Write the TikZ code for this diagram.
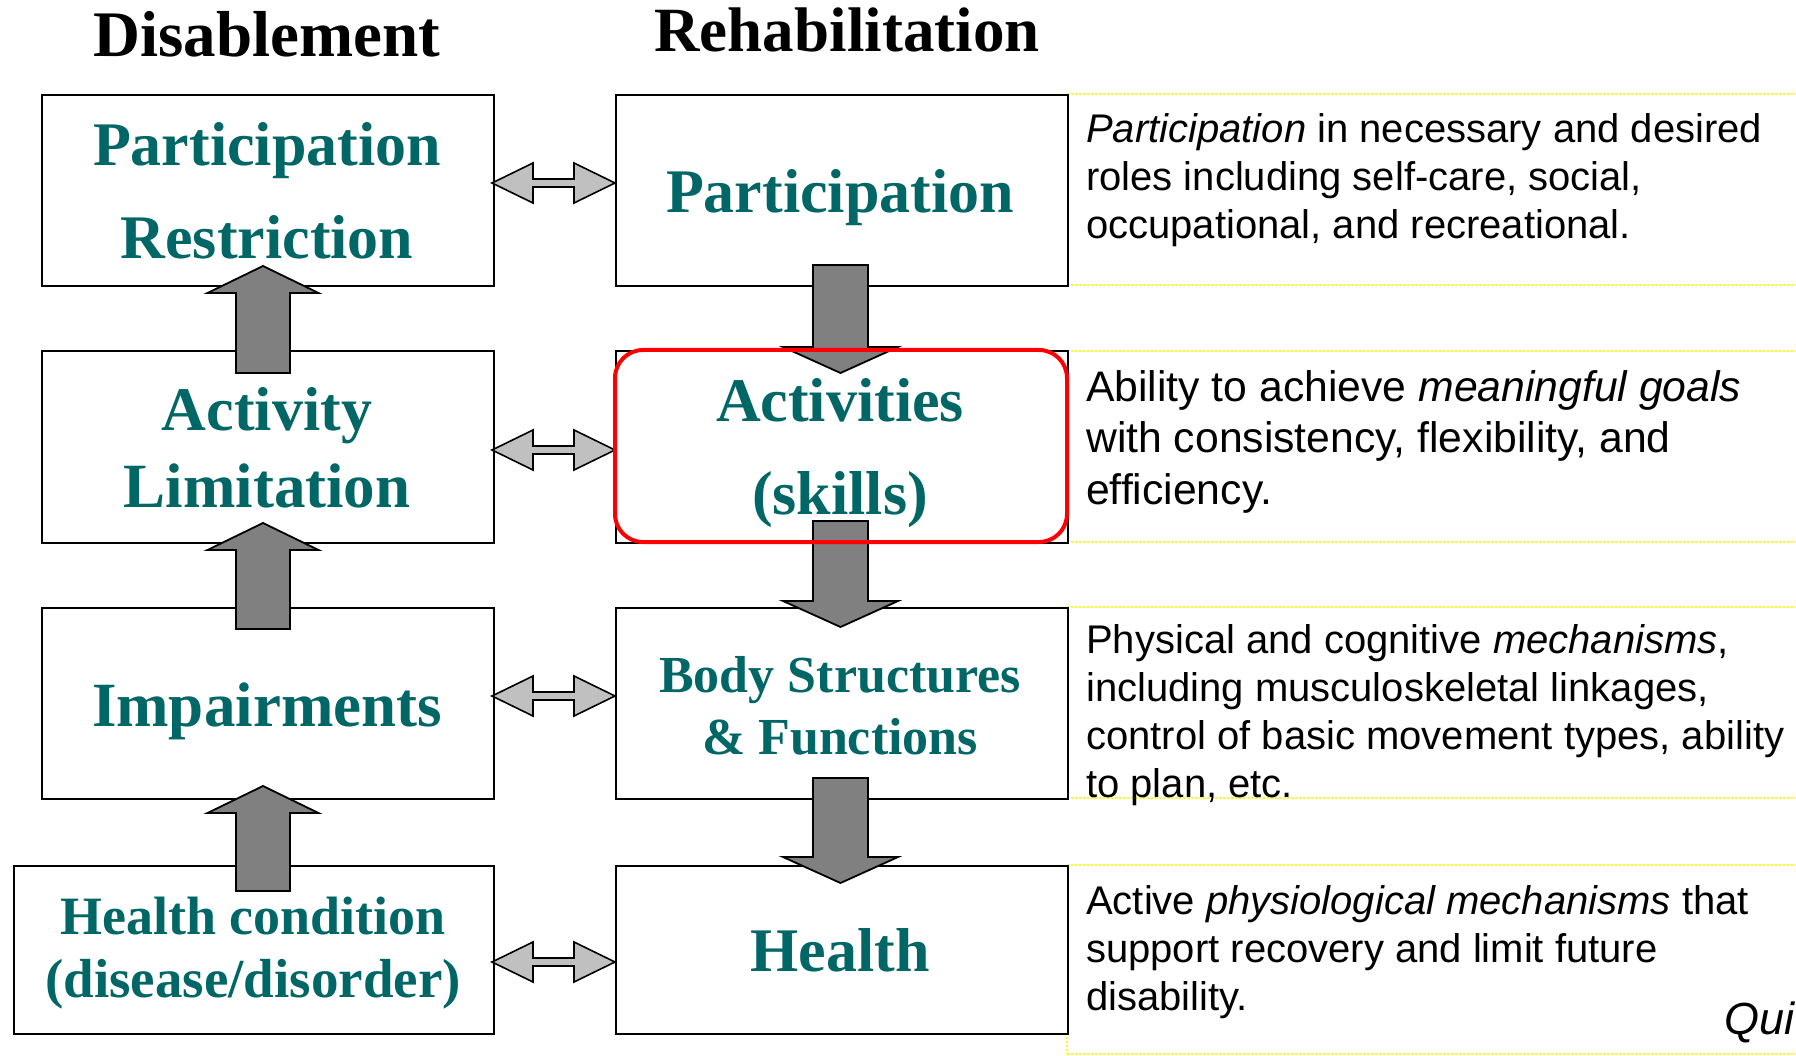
\documentclass[tikz,border=0pt]{standalone}
\usepackage{fontspec}
\setmainfont{Liberation Serif}
\newfontfamily\arialf{Liberation Sans}
\definecolor{teal2}{HTML}{006666}
\definecolor{lgray}{HTML}{C0C0C0}
\definecolor{dgray}{HTML}{808080}
\definecolor{yel}{HTML}{FFFF00}
\tikzset{
  box/.style={draw=black, line width=2pt, fill=white, inner sep=0pt, anchor=north west},
  big/.style={text=teal2, font=\bfseries\fontsize{62pt}{70pt}\selectfont, anchor=base, inner sep=0pt},
  mid/.style={text=teal2, font=\bfseries\fontsize{54pt}{60pt}\selectfont, anchor=base, inner sep=0pt},
  head/.style={text=black, font=\bfseries\fontsize{63pt}{70pt}\selectfont, anchor=base, inner sep=0pt},
  desc/.style={text=black, font=\arialf\fontsize{40pt}{48pt}\selectfont, anchor=base west, inner sep=0pt},
  descl/.style={desc, font=\arialf\fontsize{42.7pt}{50pt}\selectfont},
  dbl/.style={draw=black, line width=1.6pt, fill=lgray, line join=miter},
  blk/.style={draw=black, line width=1.8pt, fill=dgray, line join=miter},
  yline/.style={draw=yel, line width=2pt, dash pattern=on 2pt off 2pt},
  redbox/.style={draw=red, line width=4pt, rounded corners=28pt}
}
\newcommand\dblarr[3]{% left tip x, right tip x, y
  \draw[dbl] (#1,#3) -- (#1+41,#3-20) -- (#1+41,#3-4) -- (#2-41,#3-4) -- (#2-41,#3-20) -- (#2,#3)
    -- (#2-41,#3+20) -- (#2-41,#3+4) -- (#1+41,#3+4) -- (#1+41,#3+20) -- cycle;}
\newcommand\uparr[3]{% x, tip y, bottom y
  \draw[blk] (#1,#2) -- (#1+55.5,#2+27) -- (#1+27,#2+27) -- (#1+27,#3) -- (#1-27,#3) -- (#1-27,#2+27) -- (#1-55.5,#2+27) -- cycle;}
\newcommand\dnarr[3]{% x, top y, tip y
  \draw[blk] (#1-27.5,#2) -- (#1+27.5,#2) -- (#1+27.5,#3-26) -- (#1+57.5,#3-26) -- (#1,#3) -- (#1-57.5,#3-26) -- (#1-27.5,#3-26) -- cycle;}
\begin{document}
\begin{tikzpicture}[x=1pt,y=-1pt]
\useasboundingbox (0,0) rectangle (1796,1056);
\fill[white] (0,0) rectangle (1796,1056);
% yellow dotted frames of the description boxes
\foreach \yy in {94,285,351,542,607,798,865,1054}{
  \draw[yline] (1067,\yy) -- (1796,\yy);}
\draw[yline] (1067,1033) -- (1067,1054);
% headers
\node[head, font=\bfseries\fontsize{65pt}{70pt}\selectfont] (hdis) at (267,57) {Disablement};
\node[head] (hreh) at (847,52) {Rehabilitation};
% left boxes
\node[box, minimum width=452pt, minimum height=191pt] (l1) at (41,94) {};
\node[box, minimum width=452pt, minimum height=192pt] (l2) at (41,350) {};
\node[box, minimum width=452pt, minimum height=191pt] (l3) at (41,607) {};
\node[box, minimum width=480pt, minimum height=168pt] (l4) at (13,865) {};
% right boxes
\node[box, minimum width=452pt, minimum height=191pt] (r1) at (615,94) {};
\node[box, minimum width=452pt, minimum height=192pt] (r2) at (615,350) {};
\node[box, minimum width=452pt, minimum height=191pt] (r3) at (615,607) {};
\node[box, minimum width=452pt, minimum height=168pt] (r4) at (615,865) {};
% box texts
\node[big] (t1a) at (267,166) {Participation};
\node[big] (t1b) at (267,259) {Restriction};
\node[big] (t2a) at (267,430) {Activity};
\node[big, font=\bfseries\fontsize{63pt}{70pt}\selectfont] (t2b) at (267,507) {Limitation};
\node[big, font=\bfseries\fontsize{63pt}{70pt}\selectfont] (t3) at (267,726) {Impairments};
\node[mid] (t4a) at (253,934) {Health condition};
\node[mid, font=\bfseries\fontsize{55pt}{60pt}\selectfont] (t4b) at (253,997) {(disease/disorder)};
\node[big] (s1) at (840,213) {Participation};
\node[big] (s2a) at (840,421) {Activities};
\node[big] (s2b) at (840,514) {(skills)};
\node[mid, font=\bfseries\fontsize{52pt}{60pt}\selectfont] (s3a) at (840,692) {Body Structures};
\node[mid, font=\bfseries\fontsize{52pt}{60pt}\selectfont] (s3b) at (840,754) {\& Functions};
\node[big] (s4) at (840,971) {Health};
% double arrows between columns
\dblarr{492}{615}{183}
\dblarr{492}{615}{450}
\dblarr{492}{615}{696}
\dblarr{492}{615}{962}
% upward block arrows (left)
\uparr{263}{266}{373}
\uparr{263}{523}{629}
\uparr{263}{786}{891}
% downward block arrows (right)
\dnarr{840.5}{265}{373}
\dnarr{840.5}{521}{627}
\dnarr{840.5}{778}{883}
% red highlight
\draw[redbox] (615,350) rectangle (1067,542);
% descriptions
\node[desc] (d1a) at (1086,143) {\textit{Participation} in necessary and desired};
\node[desc] (d1b) at (1086,191) {roles including self-care, social,};
\node[desc] (d1c) at (1086,239) {occupational, and recreational.};
\node[descl] (d2a) at (1086,401) {Ability to achieve \textit{meaningful goals}};
\node[descl] (d2b) at (1086,452) {with consistency, flexibility, and};
\node[descl] (d2c) at (1086,504) {efficiency.};
\node[desc] (d3a) at (1086,653) {Physical and cognitive \textit{mechanisms},};
\node[desc] (d3b) at (1086,701) {including musculoskeletal linkages,};
\node[desc] (d3c) at (1086,749) {control of basic movement types, ability};
\node[desc] (d3d) at (1086,797) {to plan, etc.};
\node[desc] (d4a) at (1086,914) {Active \textit{physiological mechanisms} that};
\node[desc] (d4b) at (1086,962) {support recovery and limit future};
\node[desc] (d4c) at (1086,1010) {disability.};
\node[desc, font=\arialf\itshape\fontsize{45pt}{50pt}\selectfont] (qui) at (1724,1034) {Qui};
\end{tikzpicture}
\end{document}
